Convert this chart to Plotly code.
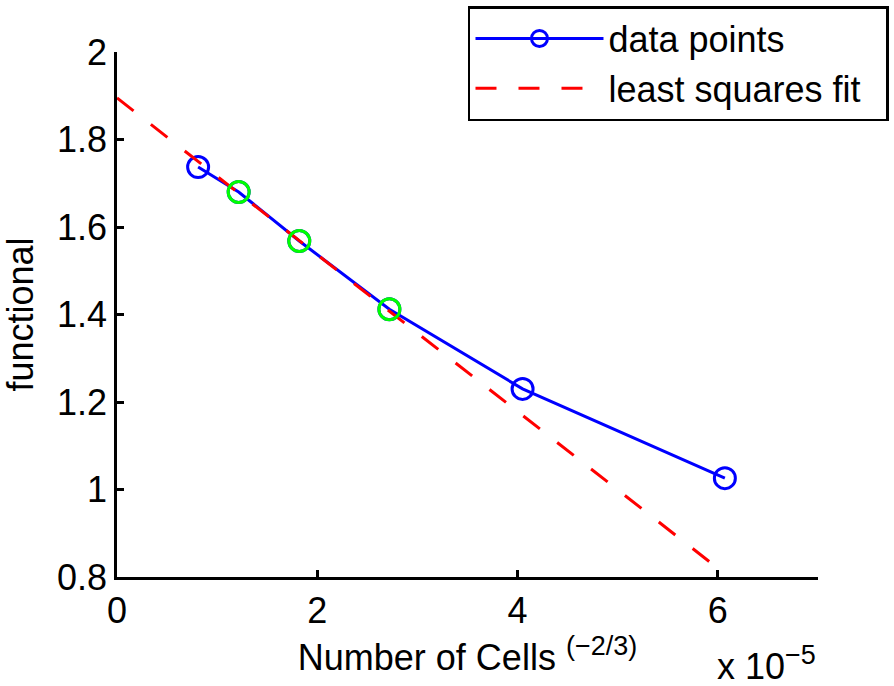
import plotly.graph_objects as go

# x values are in units of 1e-5 (Number of Cells^(-2/3))
x_data = [0.81, 1.215, 1.82, 2.72, 4.05, 6.07]
y_data = [1.737, 1.680, 1.568, 1.412, 1.230, 1.026]

# points used for the fit (highlighted in green)
x_fit_pts = [1.215, 1.82, 2.72]
y_fit_pts = [1.680, 1.568, 1.412]

# least squares fit line end points
x_fit = [0.0, 6.0]
y_fit = [1.895, 0.820]

y_ticks = [0.8, 1.0, 1.2, 1.4, 1.6, 1.8, 2.0]
y_ticktext = ["0.8", "1", "1.2", "1.4", "1.6", "1.8", "2"]
x_ticks = [0, 2, 4, 6]
x_ticktext = ["0", "2", "4", "6"]

FONT = "Liberation Sans, Arial, Helvetica, sans-serif"
FS = 36

fig = go.Figure()

fig.add_trace(go.Scatter(
    x=x_data, y=y_data, mode="lines+markers", name="data points",
    legendgroup="a",
    line=dict(color="#0000ff", width=3),
    marker=dict(symbol="circle-open", size=21, color="#0000ff",
                line=dict(width=3, color="#0000ff")),
))
fig.add_trace(go.Scatter(
    x=x_fit, y=y_fit, mode="lines", name="least squares fit\u00a0\u00a0",
    legendgroup="b",
    line=dict(color="#ff0000", width=3, dash="21px,22px"),
))
fig.add_trace(go.Scatter(
    x=x_fit_pts, y=y_fit_pts, mode="markers", showlegend=False,
    legendgroup="c",
    marker=dict(symbol="circle-open", size=21, color="#00ff00",
                line=dict(width=3, color="#00ff00")),
))

fig.update_layout(
    width=894, height=686,
    margin=dict(l=117, r=76, t=52, b=109, autoexpand=False),
    paper_bgcolor="white", plot_bgcolor="white",
    font=dict(family=FONT, size=FS, color="black"),
    showlegend=True,
    legend=dict(
        x=0.5007, y=1.0876, xanchor="left", yanchor="top",
        bgcolor="white", bordercolor="black", borderwidth=2.5,
        font=dict(family=FONT, size=FS, color="black"),
        itemwidth=128, traceorder="grouped", tracegroupgap=0,
    ),
    xaxis=dict(
        range=[0, 7], showgrid=False, zeroline=False,
        showline=True, linecolor="black", linewidth=2.5,
        ticks="inside", ticklen=7, tickwidth=2.5, tickcolor="black",
        tickvals=x_ticks, ticktext=x_ticktext,
        title=dict(text="Number of Cells <sup><span style=\"font-size:27px\">(\u22122/3)</span></sup>",
                   font=dict(size=FS), standoff=15),
        automargin=False,
    ),
    yaxis=dict(
        range=[0.8, 2.0], showgrid=False, zeroline=False,
        showline=True, linecolor="black", linewidth=2.5,
        ticks="inside", ticklen=7, tickwidth=2.5, tickcolor="black",
        tickvals=y_ticks, ticktext=y_ticktext,
        title=dict(text="functional", font=dict(size=FS)),
        automargin=False,
    ),
    annotations=[dict(
        text="x 10<sup><span style=\"font-size:27px\">\u22125</span></sup>",
        xref="paper", yref="paper",
        x=1.0, y=-0.2126, xanchor="right", yanchor="bottom", showarrow=False,
        font=dict(family=FONT, size=FS, color="black"),
    )],
)

fig.write_html("out.html", config={"displayModeBar": False},
               post_script="document.body.style.margin='0';")
